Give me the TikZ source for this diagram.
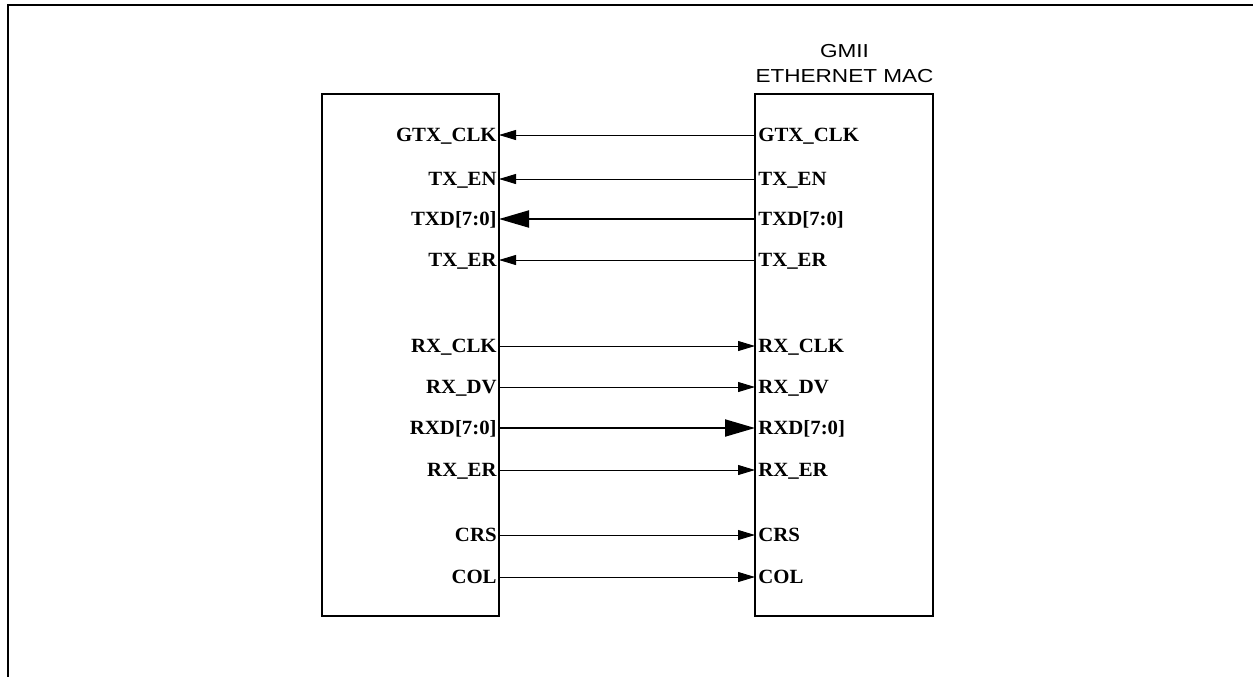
\documentclass[tikz,border=0pt]{standalone}
\usepackage{fontspec}
\setmainfont{Liberation Serif}
\newfontfamily\labelsans[FakeStretch=1.2]{Liberation Sans}
\newfontfamily\labelserif[FakeStretch=1.03]{Liberation Serif}
\usetikzlibrary{arrows.meta}
\tikzset{
  frameline/.style={line width=1pt, draw=black},
  chipbox/.style={draw=black, line width=1.1pt},
  pinlabel/.style={font=\labelserif\fontsize{10.1pt}{12pt}\selectfont\bfseries, inner sep=0pt},
  sigarrow/.style={-{Triangle[length=8.5pt, width=5pt]}, line width=0.45pt},
  busarrow/.style={-{Triangle[length=15pt, width=8.5pt]}, line width=1pt}
}
\begin{document}
\begin{tikzpicture}[x=0.5pt, y=-0.5pt]
\useasboundingbox (0,0) rectangle (1253,677);
% outer frame (top and left edges only)
\draw[frameline] (1253,5) -- (8,5) -- (8,677);

% the two chips
\draw[chipbox] (322,94) rectangle (499,616);
\draw[chipbox] (755,94) rectangle (933,616);
\node[font=\labelsans\fontsize{9.4pt}{12.5pt}\selectfont, align=center, anchor=south, inner sep=0pt]
  (mactitle) at (844.5,83.5) {GMII\\ETHERNET MAC};

% transmit side: MAC drives the PHY
\foreach \sig/\y/\kind in {GTX\_CLK/135/sigarrow, TX\_EN/179/sigarrow, TXD[7:0]/219/busarrow, TX\_ER/260/sigarrow}{
  \coordinate (phy\y) at (499,\y);
  \coordinate (mac\y) at (755,\y);
  \node[pinlabel, anchor=base east] at (497,\y+6.5) {\sig};
  \node[pinlabel, anchor=base west] at (758,\y+6.5) {\sig};
  \draw[\kind] (mac\y) -- (phy\y);
}

% receive side: PHY drives the MAC
\foreach \sig/\y/\kind in {RX\_CLK/346/sigarrow, RX\_DV/387/sigarrow, RXD[7:0]/428/busarrow, RX\_ER/470/sigarrow, CRS/535/sigarrow, COL/577/sigarrow}{
  \coordinate (phy\y) at (499,\y);
  \coordinate (mac\y) at (755,\y);
  \node[pinlabel, anchor=base east] at (497,\y+6.5) {\sig};
  \node[pinlabel, anchor=base west] at (758,\y+6.5) {\sig};
  \draw[\kind] (phy\y) -- (mac\y);
}
\end{tikzpicture}
\end{document}
